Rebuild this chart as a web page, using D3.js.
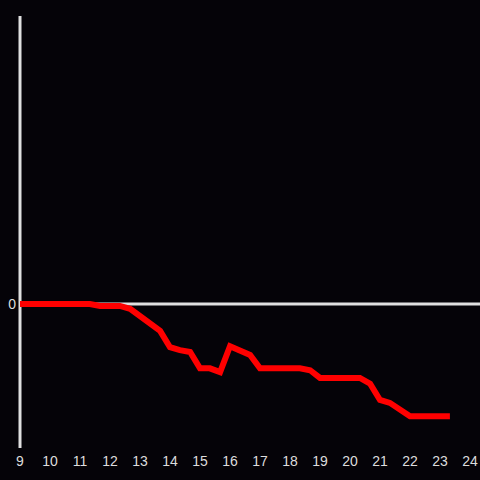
<!DOCTYPE html>
<html>
<head>
<meta charset="utf-8">
<script src="https://cdn.jsdelivr.net/npm/d3@7"></script>
<style>
  html, body { margin: 0; padding: 0; background: #050308; }
  svg { display: block; }
  text { font-family: "Liberation Sans", Arial, sans-serif; }
</style>
</head>
<body>
<div id="chart"></div>
<script>
// Series: x position and value (0 = baseline).
const xs = [9, 11.33, 11.67, 12.33, 12.67, 13.67, 14, 14.33, 14.67, 15, 15.33, 15.67,
  16, 16.67, 17, 18.33, 18.67, 19, 20.33, 20.67, 21, 21.33, 22, 23.33];
const ys = [0, 0, -0.02, -0.02, -0.05, -0.28, -0.45, -0.48, -0.5, -0.67, -0.67, -0.71,
  -0.44, -0.53, -0.67, -0.67, -0.69, -0.77, -0.77, -0.83, -1.0, -1.03, -1.17, -1.17];
const xTicks = d3.range(9, 25);
const yTicks = [0];

const width = 480, height = 480;
const m = { top: 16, right: 10, bottom: 32, left: 20 };

const svg = d3.select("#chart").append("svg")
  .attr("width", width).attr("height", height)
  .style("background", "#050308");

const x = d3.scaleLinear().domain([9, 24]).range([m.left, width - m.right]);
const y = d3.scaleLinear().domain([-1.5, 3]).range([height - m.bottom, m.top]);

// zero line across the plot
svg.append("line")
  .attr("x1", x(9)).attr("x2", width).attr("y1", y(0)).attr("y2", y(0))
  .attr("stroke", "#e0e0e0").attr("stroke-width", 3);

// vertical axis
svg.append("line")
  .attr("x1", x(9)).attr("x2", x(9)).attr("y1", y(3)).attr("y2", y(-1.5))
  .attr("stroke", "#e0e0e0").attr("stroke-width", 3);

svg.selectAll("text.ylab").data(yTicks).join("text").attr("class", "ylab")
  .attr("x", x(9) - 4).attr("y", (d) => y(d)).attr("dy", "0.35em")
  .attr("text-anchor", "end").attr("fill", "#ddd").attr("font-size", 14)
  .text((d) => d);

svg.selectAll("text.xlab").data(xTicks).join("text").attr("class", "xlab")
  .attr("x", (d) => x(d)).attr("y", 461).attr("dy", "0.35em")
  .attr("text-anchor", "middle").attr("fill", "#ddd").attr("font-size", 14)
  .text((d) => d);

const pts = xs.map((v, i) => [v, ys[i]]);
svg.append("path").datum(pts)
  .attr("fill", "none").attr("stroke", "#ff0000").attr("stroke-width", 6)
  .attr("stroke-linejoin", "miter")
  .attr("d", d3.line().x((d) => x(d[0])).y((d) => y(d[1])));
</script>
</body>
</html>
